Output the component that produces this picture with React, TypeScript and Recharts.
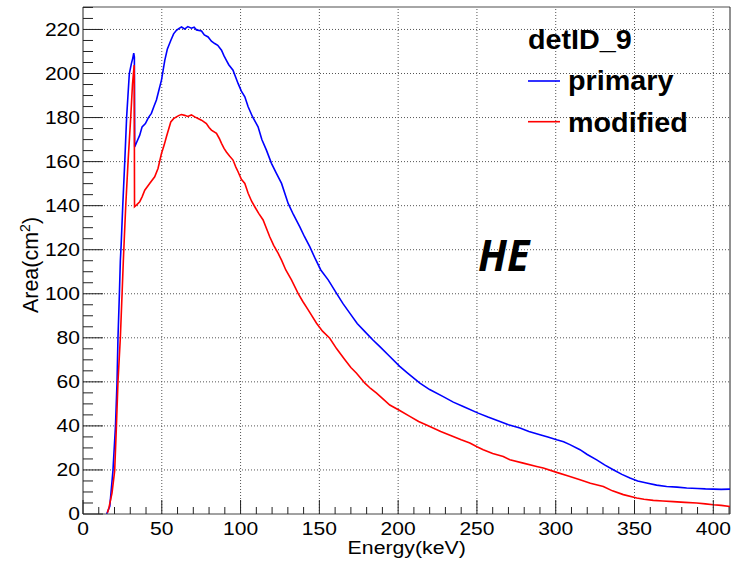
import React from 'react';
import { LineChart, Line, XAxis, YAxis, ReferenceLine } from 'recharts';

// (keV, cm^2)
const primaryEnergy = [
  15, 17, 19, 20.6, 21.6, 22.2, 23.1, 23.7, 24.2, 25.2, 26.5, 27.7, 29.4, 30.7, 31.6, 32.2, 32.6, 32.8,
  34.2, 36, 37.5, 39.6, 41.5, 43.4, 45, 46.6, 48.2, 49.8, 51.9, 53.5, 55.7, 57.5, 59.3, 61, 62.5, 64.5,
  66.5, 68.8, 70.5, 72, 75.2, 77, 79.4, 81.5, 83.6, 85.5, 87.9, 89.5, 91, 92.5, 95.2, 98.4, 100.5, 102.7,
  104.8, 107.5, 111.1, 113.5, 116.4, 119.6, 122.5, 126, 130.2, 133.5, 137.6, 140.5, 143.9, 147, 150.9,
  155.6, 160.9, 165, 169.3, 174, 178.9, 184, 188.4, 194.7, 201, 206, 213.8, 220, 228.6, 235, 241.3, 250.8,
  257, 264.6, 270, 277.3, 283, 290, 295, 300.6, 305, 309, 315.4, 320, 326, 331, 336.5, 342, 347.1, 352,
  357.7, 364, 370.4, 377, 383.1, 390, 395, 400, 405, 410.6,
];
const primaryArea = [
  0, 3.5, 19.6, 39.7, 59.9, 80, 100, 115, 122, 139.5, 160, 180.3, 200, 204.5, 207, 209.3, 207.5, 166.7,
  169, 172, 175.8, 177.3, 180, 181.9, 185, 188, 192.5, 197, 206, 211, 215, 218, 219.6, 220.5, 221.1, 220.2,
  221.3, 220.6, 221, 219.8, 219.3, 217.5, 216.6, 214.7, 213.6, 212.8, 210.6, 208, 206, 204, 201.5, 195.5, 192, 189.4,
  184.9, 180.5, 175.8, 170, 165.2, 159.2, 155, 150.1, 141, 136, 130.4, 126, 121.4, 116.5, 110.8,
  106.3, 100.2, 95.5, 91.2, 86.5, 82.8, 79, 76, 71.5, 67, 64, 59.4, 56.5, 53.3, 50.8, 48.8, 45.8,
  44, 42, 40.5, 39, 37.5, 36, 35, 33.7, 32.8, 31.5, 29.2, 27, 24.6, 22.3, 20.1, 18, 16.3, 15,
  14.1, 13.1, 12.5, 12.2, 11.8, 11.6, 11.4, 11.3, 11.2, 11.3,
];

const modifiedEnergy = [
  15.5, 16.5, 18.4, 20.1, 21.2, 22.2, 23.7, 24.8, 25.6, 26.2, 27.1, 28.6, 30.3, 31.4, 32, 32.5, 32.7,
  34.2, 36, 37.5, 39.2, 42.3, 45.5, 47.6, 49.8, 51.5, 52.9, 55.7, 57.5, 59.3, 61, 62.5, 64.5, 66.5, 68.8,
  70.9, 73, 75.2, 78.3, 80, 81.5, 84.7, 86.5, 87.9, 89.5, 91, 93, 95.2, 97, 98.4, 100.5, 102.7, 104.8,
  107, 109, 111.5, 114.3, 118.5, 121, 123.8, 126, 128.7, 132.3, 136.5, 139.5, 142.9, 148.2, 152, 156.6,
  161, 166.2, 170, 173.6, 178.9, 182.5, 186.3, 190, 194.7, 201, 207.4, 213, 220.1, 227, 234.9, 240,
  245.5, 250, 254, 260, 266.7, 270.9, 279.4, 287.9, 292.1, 300.6, 308, 315.4, 322, 330.2, 336, 342.9,
  351.4, 356, 361.9, 368, 374.6, 382, 389.5, 395, 400, 405, 410.6,
];
const modifiedArea = [
  0.6, 3, 9.5, 19.6, 39.7, 59.9, 80, 100, 115, 125, 139.5, 160, 180.3, 195, 200, 203.8, 139.5,
  140.5, 141.8, 144, 147, 150.1, 153.1, 156.9, 163.7, 167.5, 171.2, 178, 179.5, 180.3, 181, 181.4, 181, 180.5, 181.2,
  180.3, 179.6, 178.8, 177.3, 175.5, 174.3, 172.8, 170.5, 168.3, 166, 164.4, 162.5, 160.7, 157.5, 155.4, 152, 150.1, 145.6,
  142, 139.5, 136.5, 133.5, 125.9, 122, 118.4, 115.3, 110.8, 106.3, 100.2, 96.5, 92.7, 86.6, 83, 79.8,
  75, 70, 66.5, 63.9, 59.4, 57, 54.9, 52.5, 49.5, 47, 44.3, 42, 39.7, 37.5, 35.2, 33.7,
  32.2, 30.5, 29.2, 27.5, 26.1, 24.6, 23.1, 21.6, 20.9, 18.9, 17.3, 15.6, 14, 12.5, 10.5, 8.8,
  7.3, 6.7, 6.2, 5.9, 5.6, 5.3, 5, 4.6, 4.2, 3.9, 3.4,
];

const xTicks = [0, 10, 20, 30, 40, 50, 60, 70, 80, 90, 100, 110, 120, 130, 140, 150, 160, 170, 180, 190, 200,
  210, 220, 230, 240, 250, 260, 270, 280, 290, 300, 310, 320, 330, 340, 350, 360, 370, 380, 390, 400, 410];
const yTicks = [0, 5, 10, 15, 20, 25, 30, 35, 40, 45, 50, 55, 60, 65, 70, 75, 80, 85, 90, 95, 100, 105, 110,
  115, 120, 125, 130, 135, 140, 145, 150, 155, 160, 165, 170, 175, 180, 185, 190, 195, 200, 205, 210, 215,
  220, 225, 230];
const xGrid = [50, 100, 150, 200, 250, 300, 350, 400];
const yGrid = [20, 40, 60, 80, 100, 120, 140, 160, 180, 200, 220];

const X_MAX = 410.6;
const Y_MAX = 230.2;

const primaryData = primaryEnergy.map((e, i) => ({ energy: e, area: primaryArea[i] }));
const modifiedData = modifiedEnergy.map((e, i) => ({ energy: e, area: modifiedArea[i] }));

const FONT = '"Liberation Sans", Arial, sans-serif';

const XTick = (props: any) => {
  const { x, y, payload } = props;
  const v = payload.value;
  const major = v % 50 === 0;
  return (
    <g>
      <line x1={x} x2={x} y1={y} y2={y - (major ? 14 : 7)} stroke="#222" />
      {major && (
        <text transform={`translate(${x},${y + 21}) scale(1.17,1)`} textAnchor="middle"
          fontSize={18} fontFamily={FONT} fill="#000">{v}</text>
      )}
    </g>
  );
};

const YTick = (props: any) => {
  const { x, y, payload } = props;
  const v = payload.value;
  const major = v % 20 === 0;
  return (
    <g>
      <line x1={x} x2={x + (major ? 20 : 10)} y1={y} y2={y} stroke="#222" />
      {major && (
        <text transform={`translate(${x - 3},${y + 6.4}) scale(1.17,1)`} textAnchor="end"
          fontSize={18} fontFamily={FONT} fill="#000">{v}</text>
      )}
    </g>
  );
};

const App = () => (
  <div style={{ position: 'absolute', left: 0, top: 0, width: 744, height: 564, background: '#fff' }}>
    <LineChart width={744} height={564} margin={{ top: 7, right: 14, bottom: 0, left: 23 }}>
      {xGrid.map(v => (
        <ReferenceLine key={'gx' + v} x={v} stroke="#555" strokeDasharray="1 2" />
      ))}
      {yGrid.map(v => (
        <ReferenceLine key={'gy' + v} y={v} stroke="#555" strokeDasharray="1 2" />
      ))}
      <ReferenceLine y={Y_MAX} stroke="#888" strokeWidth={1.5} />
      <ReferenceLine x={X_MAX} stroke="#222" />
      <XAxis type="number" dataKey="energy" domain={[0, X_MAX]} ticks={xTicks} interval={0}
        allowDataOverflow height={50} tickSize={0} tickMargin={0} tickLine={false}
        axisLine={{ stroke: '#444' }} tick={XTick}
        label={{
          content: () => (
            <text transform="translate(406.7,554) scale(1.15,1)" textAnchor="middle" fontSize={18.5}
              fontFamily={FONT} fill="#000">Energy(keV)</text>
          ),
        }} />
      <YAxis type="number" domain={[0, Y_MAX]} ticks={yTicks} interval={0} allowDataOverflow width={60}
        tickSize={0} tickMargin={0} tickLine={false} axisLine={{ stroke: '#222' }} tick={YTick}
        label={{
          content: () => (
            <text transform="translate(38,265) rotate(-90)" textAnchor="middle" fontSize={21.5}
              fontFamily={FONT} fill="#000">
              Area(cm<tspan dy={-8} fontSize={14}>2</tspan><tspan dy={8}>)</tspan>
            </text>
          ),
        }} />
      <Line data={primaryData} dataKey="area" name="primary" type="linear" stroke="#0000ff"
        strokeWidth={1.6} dot={false} isAnimationActive={false} />
      <Line data={modifiedData} dataKey="area" name="modified" type="linear" stroke="#ff0000"
        strokeWidth={1.6} dot={false} isAnimationActive={false} />
    </LineChart>
    <svg width={744} height={564} style={{ position: 'absolute', left: 0, top: 0, pointerEvents: 'none' }}>
      <g fontFamily={FONT} fontWeight="bold" fontSize={27} fill="#000">
        <text transform="translate(528,49.3) scale(1.065,1)">detID_9</text>
        <line x1={528} x2={560} y1={81} y2={81} stroke="#0000ff" strokeWidth={1.6} />
        <text transform="translate(568,90) scale(1.065,1)">primary</text>
        <line x1={528} x2={560} y1={121.7} y2={121.7} stroke="#ff0000" strokeWidth={1.6} />
        <text transform="translate(568,131.7) scale(1.065,1)">modified</text>
      </g>
      <text transform="translate(478,271) scale(0.96,1)" fontFamily='"Open Sans", sans-serif' fontWeight="bold"
        fontStyle="italic" fontSize={43} fill="#000">HE</text>
    </svg>
  </div>
);

export default App;
